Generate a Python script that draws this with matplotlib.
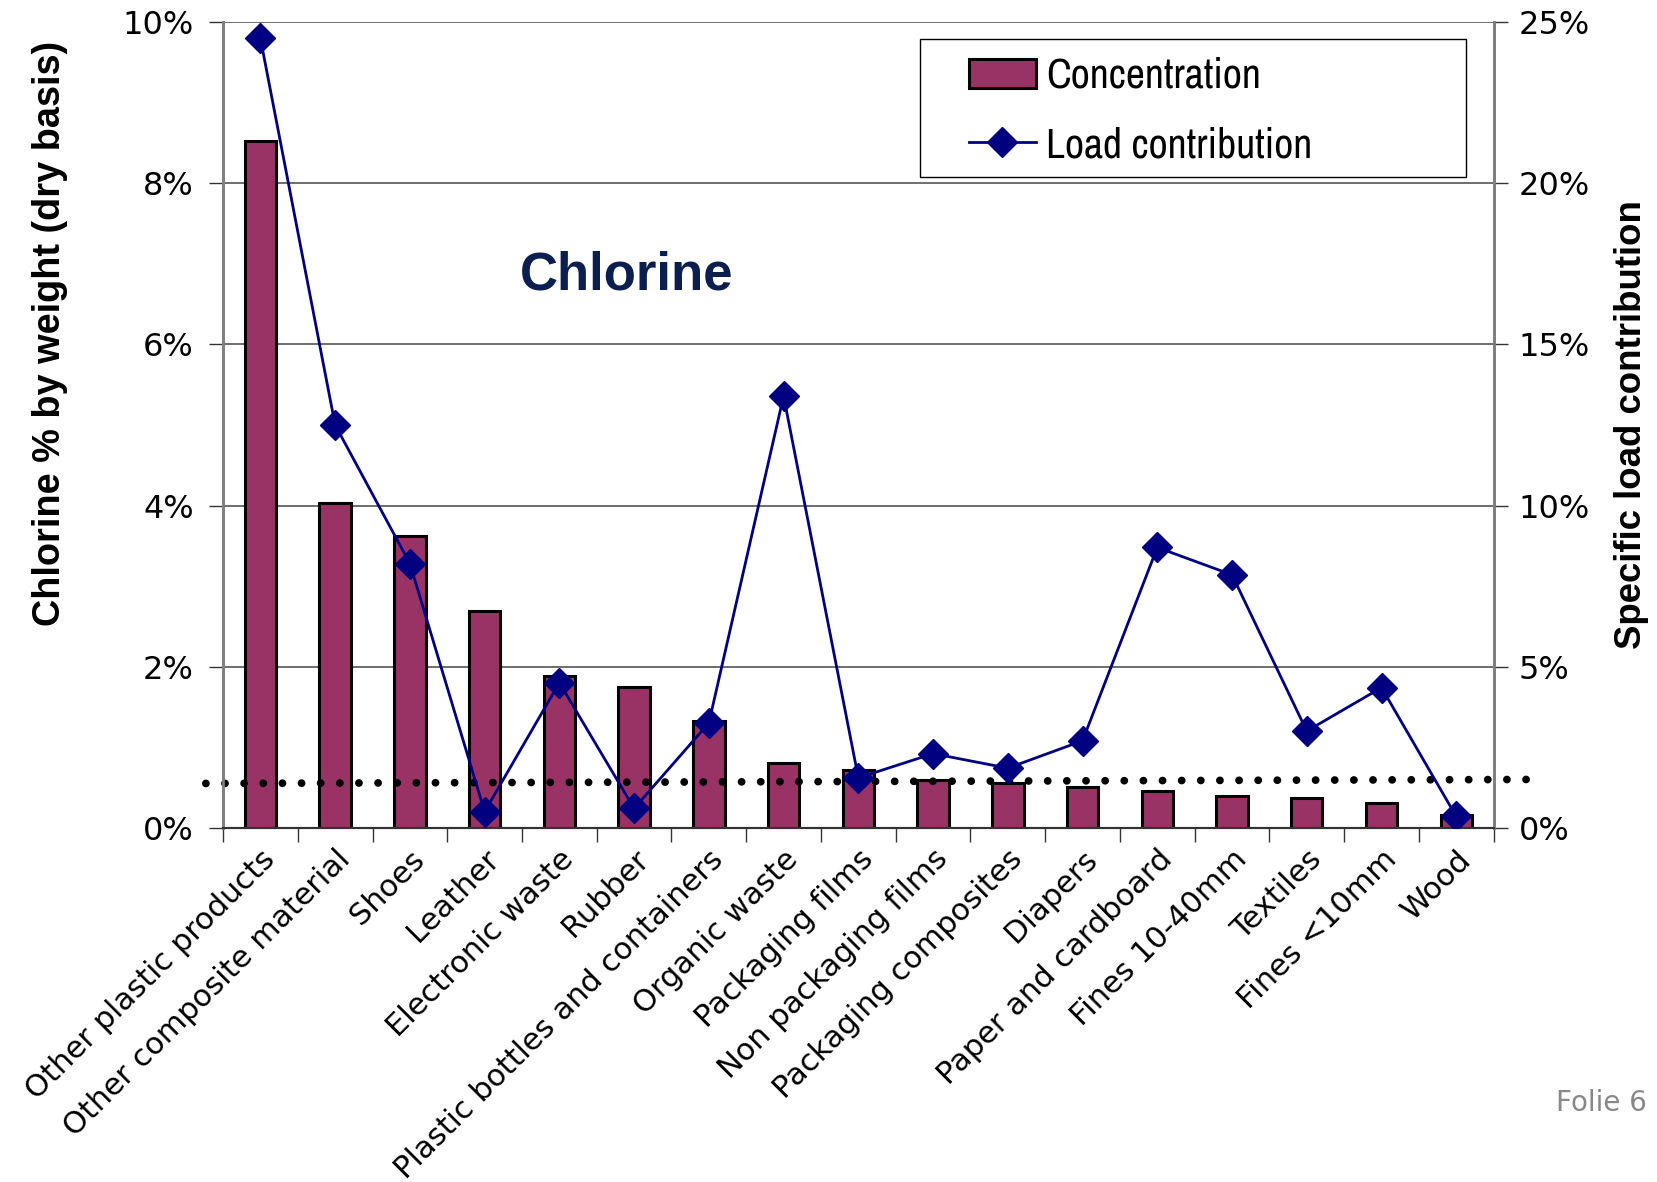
import matplotlib
matplotlib.use("Agg")
import matplotlib.pyplot as plt
from matplotlib import font_manager
from matplotlib.ticker import FixedLocator, FuncFormatter, NullFormatter
from matplotlib.patches import Patch, Rectangle
from matplotlib.lines import Line2D
import numpy as np

# ---- data -------------------------------------------------------------
categories = [
    "Other plastic products", "Other composite material", "Shoes", "Leather",
    "Electronic waste", "Rubber", "Plastic bottles and containers",
    "Organic waste", "Packaging films", "Non packaging films",
    "Packaging composites", "Diapers", "Paper and cardboard",
    "Fines 10-40mm", "Textiles", "Fines <10mm", "Wood",
]
# chlorine concentration, % by weight (dry basis)
concentration = [8.52, 4.03, 3.62, 2.69, 1.88, 1.75, 1.33, 0.80, 0.72,
                 0.59, 0.55, 0.50, 0.46, 0.39, 0.37, 0.31, 0.16]
# specific load contribution, %
load_contribution = [24.5, 12.5, 8.2, 0.5, 4.5, 0.6, 3.25, 13.4, 1.55,
                     2.3, 1.85, 2.7, 8.7, 7.85, 3.0, 4.35, 0.35]
# dotted average-concentration level (left end, right end), %
average_level = [0.55, 0.60]

left_ticks = [0, 2, 4, 6, 8, 10]
right_ticks = [0, 5, 10, 15, 20, 25]

# ---- fonts ------------------------------------------------------------
available = {f.name for f in font_manager.fontManager.ttflist}


def families(*names):
    return [n for n in names if n in available] + ["DejaVu Sans"]


narrow = families("Archivo Narrow", "Liberation Sans Narrow", "Liberation Sans")
arial = families("Liberation Sans")
verdana = ["DejaVu Sans"]

BAR = "#993366"
NAVY = "#000080"

fig = plt.figure(figsize=(16.57, 11.82), dpi=100)
ax = fig.add_axes([0.1346, 0.2997, 0.7668, 0.6815])
ax2 = ax.twinx()
ax.set_zorder(1)
ax2.set_zorder(2)
ax2.patch.set_visible(False)

x = np.arange(len(categories))

# horizontal gridlines on the left scale
for t in left_ticks[1:]:
    ax.axhline(t, color="#555555", lw=1.2, zorder=1)

ax.bar(x, concentration, width=0.42, color=BAR, edgecolor="black",
       linewidth=2.2, zorder=3)

ax.set_xlim(-0.5, len(categories) - 0.5)
ax.set_ylim(0, 10)
ax2.set_ylim(0, 25)

# dotted average line, running slightly past the plot area
ax.plot([-0.73, 17.16], average_level, color="black", lw=5.6,
        linestyle=(0, (0.01, 2.45)), dash_capstyle="round",
        solid_capstyle="round", clip_on=False, zorder=5)

ax2.plot(x, load_contribution, color=NAVY, lw=2.0, marker="D", ms=15,
         markeredgecolor=NAVY, zorder=4)

# ---- axes styling -----------------------------------------------------
for a in (ax, ax2):
    a.spines["top"].set_visible(False)
    a.spines["left"].set_color("#808080")
    a.spines["right"].set_color("#808080")
    a.spines["left"].set_linewidth(2)
    a.spines["right"].set_linewidth(2)
    a.spines["bottom"].set_color("#333333")
    a.spines["bottom"].set_linewidth(1.5)

pct = FuncFormatter(lambda v, p: f"{v:.0f}%")
ax.yaxis.set_major_locator(FixedLocator(left_ticks))
ax.yaxis.set_major_formatter(pct)
ax2.yaxis.set_major_locator(FixedLocator(right_ticks))
ax2.yaxis.set_major_formatter(pct)
ax.tick_params(axis="y", length=10, width=1, color="#333333", pad=11,
               labelsize=23)
ax2.tick_params(axis="y", length=10, width=1, color="#333333", pad=8,
                labelsize=23)
for lab in ax.get_yticklabels() + ax2.get_yticklabels():
    lab.set_fontfamily(verdana)

# category labels on the bars, tick marks between categories
ax.xaxis.set_major_locator(FixedLocator(x))
ax.set_xticklabels(categories, rotation=45, ha="right",
                   rotation_mode="anchor", fontsize=22, family=verdana)
ax.tick_params(axis="x", which="major", length=0, pad=12)
ax.xaxis.set_minor_locator(FixedLocator(np.arange(-0.5, len(categories), 1)))
ax.xaxis.set_minor_formatter(NullFormatter())
ax.tick_params(axis="x", which="minor", length=10, width=1,
               color="#333333")

ax.set_ylabel("Chlorine % by weight (dry basis)", fontsize=27.3,
              fontweight="bold", family=arial)
ax.yaxis.set_label_coords(-0.122, 0.614)
ax2.set_ylabel("Specific load contribution", fontsize=26.4,
               fontweight="bold", family=arial)
ax2.yaxis.set_label_coords(1.0948, 0.5)

ax.text(0.318, 0.685, "Chlorine", transform=ax.transAxes, ha="center",
        va="center", fontsize=38, fontweight="bold", color="#0a1e4f",
        family=arial)

# legend: white framed box with the entries placed inside it
ax2.add_patch(Rectangle((0.5483, 0.8084), 0.4301, 0.1706,
                        transform=ax2.transAxes, facecolor="white",
                        edgecolor="black", linewidth=1.0, zorder=6))
handles = [
    Patch(facecolor=BAR, edgecolor="black", linewidth=2.2,
          label="Concentration"),
    Line2D([], [], color=NAVY, lw=2.0, marker="D", ms=15,
           label="Load contribution"),
]
leg = ax2.legend(handles=handles, loc="center left",
                 bbox_to_anchor=(0.5871, 0.8905), frameon=False,
                 borderpad=0, labelspacing=0.75, handlelength=1.6,
                 handletextpad=0.25, borderaxespad=0,
                 prop={"family": narrow, "size": 30})
leg.set_zorder(7)

fig.text(0.994, 0.067, "Folie 6", ha="right", va="center", fontsize=20,
         color="#888888", family=verdana)

fig.savefig("out.png", dpi=100, facecolor="white")
